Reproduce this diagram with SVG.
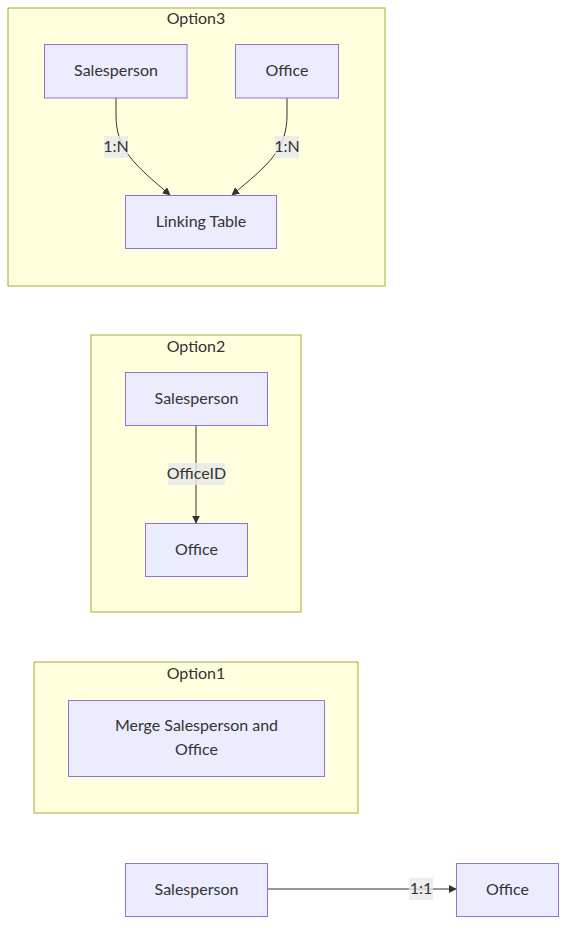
<svg xmlns="http://www.w3.org/2000/svg" width="575" height="937" viewBox="0 0 575 937">
<style>
text{font-family:Lato,"Liberation Sans",sans-serif;font-size:16px;fill:#333;text-anchor:middle;dominant-baseline:central}
.cl{fill:#ffffde;stroke:#aaaa33;stroke-width:1}
.nd{fill:#ececff;stroke:#9370db;stroke-width:1}
.ed{fill:none;stroke:#333;stroke-width:1}
.lb{fill:#e8e8e8;opacity:0.8}
</style>
<defs>
<marker id="ah" viewBox="0 0 10 10" refX="9" refY="5" markerWidth="8" markerHeight="8" markerUnits="userSpaceOnUse" orient="auto">
<path d="M0,0L10,5L0,10z" fill="#333"/>
</marker>
</defs>
<g id="clusters">
<g id="Option3"><rect class="cl" x="8" y="8" width="377" height="278"/><text x="196" y="17.5">Option3</text></g>
<g id="Option2"><rect class="cl" x="91" y="335" width="210" height="277"/><text x="196" y="345.5">Option2</text></g>
<g id="Option1"><rect class="cl" x="34" y="662" width="324" height="151"/><text x="196" y="672.5">Option1</text></g>
</g>
<g id="edges">
<path class="ed" d="M116,98L116,115C116,150 135,165 170,195" marker-end="url(#ah)"/>
<path class="ed" d="M287,98L287,115C287,150 268,165 232,195" marker-end="url(#ah)"/>
<path class="ed" d="M196,425L196,523" marker-end="url(#ah)"/>
<path class="ed" d="M267,889L456,889" marker-end="url(#ah)"/>
<g id="labels">
<rect class="lb" x="104" y="136" width="24" height="22"/><text x="116" y="145.5">1:N</text>
<rect class="lb" x="275" y="136" width="24" height="22"/><text x="287" y="145.5">1:N</text>
<rect class="lb" x="168" y="463" width="57" height="22"/><text x="196.5" y="472.5">OfficeID</text>
<rect class="lb" x="409" y="878" width="24" height="22"/><text x="421" y="887.5">1:1</text>
</g>
</g>
<g id="nodes">
<g id="o3_sales"><rect class="nd" x="44.5" y="44.5" width="142.5" height="53.5"/><text x="116" y="69.5">Salesperson</text></g>
<g id="o3_office"><rect class="nd" x="235.5" y="44.5" width="103" height="53.5"/><text x="287" y="69.5">Office</text></g>
<g id="o3_link"><rect class="nd" x="125.5" y="195.5" width="151" height="53"/><text x="201" y="220.5">Linking Table</text></g>
<g id="o2_sales"><rect class="nd" x="125.5" y="372.5" width="142" height="53"/><text x="196.5" y="397.5">Salesperson</text></g>
<g id="o2_office"><rect class="nd" x="145.5" y="523.5" width="102" height="53"/><text x="196.5" y="548.5">Office</text></g>
<g id="o1_merge"><rect class="nd" x="68.5" y="700.5" width="256" height="76"/><text x="196.5" y="724.5">Merge Salesperson and</text><text x="196.5" y="748.5">Office</text></g>
<g id="sales"><rect class="nd" x="125.5" y="863.5" width="142" height="53"/><text x="196.5" y="888.5">Salesperson</text></g>
<g id="office"><rect class="nd" x="456.5" y="863.5" width="102" height="53"/><text x="507.5" y="888.5">Office</text></g>
</g>
</svg>
